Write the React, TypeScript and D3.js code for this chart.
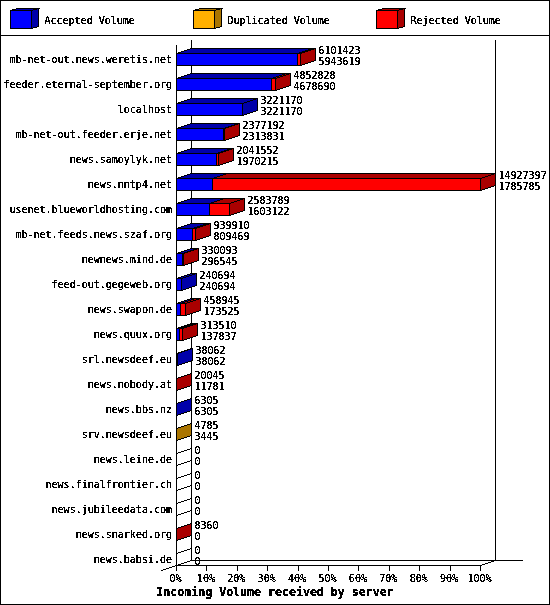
import * as d3 from "d3";

const servers = [
  "mb-net-out.news.weretis.net",
  "feeder.eternal-september.org",
  "localhost",
  "mb-net-out.feeder.erje.net",
  "news.samoylyk.net",
  "news.nntp4.net",
  "usenet.blueworldhosting.com",
  "mb-net.feeds.news.szaf.org",
  "newnews.mind.de",
  "feed-out.gegeweb.org",
  "news.swapon.de",
  "news.quux.org",
  "srl.newsdeef.eu",
  "news.nobody.at",
  "news.bbs.nz",
  "srv.newsdeef.eu",
  "news.leine.de",
  "news.finalfrontier.ch",
  "news.jubileedata.com",
  "news.snarked.org",
  "news.babsi.de",
];
const accepted = [
  5943619, 4678690, 3221170, 2313831, 1970215, 1785785, 1603122, 809469, 296545, 240694, 173525,
  137837, 38062, 11781, 6305, 3445, 0, 0, 0, 0, 0,
];
const duplicated = [0, 0, 0, 0, 0, 0, 0, 0, 0, 0, 0, 0, 0, 0, 0, 1340, 0, 0, 0, 0, 0];
const rejected = [
  157804, 174138, 0, 63361, 71337, 13141612, 980667, 130441, 33548, 0, 285420, 175673, 0, 8264, 0,
  0, 0, 0, 0, 8360, 0,
];
const percentTicks = [0, 10, 20, 30, 40, 50, 60, 70, 80, 90, 100];
const legendNames = ["Accepted Volume", "Duplicated Volume", "Rejected Volume"];
const frontColors = ["#0000ff", "#ffb000", "#ff0000"];
const darkColors = ["#0000aa", "#aa7500", "#aa0000"];

const series = [accepted, duplicated, rejected];
const totals = servers.map((_, i) => accepted[i] + duplicated[i] + rejected[i]);

const font = "'DejaVu Sans Mono', monospace";
const depthX = 15;
const depthY = 5;
const barH = 12;

const x = d3.scaleLinear().domain([0, d3.max(totals)!]).range([176.5, 480.5]);
const pct = d3.scaleLinear().domain([0, 100]).range([176.5, 480.5]);
const y = d3.scalePoint().domain(servers).range([59.5, 559.5]);
const poly = d3.line();
const snap = (v: number) => Math.round(v - 0.5) + 0.5;

function Bar({ i }: { i: number }) {
  const top = y(servers[i])! - 6;
  const bottom = top + barH;
  let running = 0;
  const parts: { from: number; to: number; k: number }[] = [];
  series.forEach((s, k) => {
    if (s[i] > 0) {
      parts.push({ from: snap(x(running)), to: snap(x(running + s[i])), k });
      running += s[i];
    }
  });
  const end = snap(x(totals[i]));
  const last = parts.length ? parts[parts.length - 1].k : -1;
  const stroke = { stroke: "#000", strokeWidth: 1 };
  return (
    <g>
      {parts.map((p) => (
        <path
          key={`t${p.k}`}
          d={poly([[p.from, top], [p.from + depthX, top - depthY], [p.to + depthX, top - depthY], [p.to, top]])!}
          fill={darkColors[p.k]}
          {...stroke}
        />
      ))}
      <path
        d={poly([[end, top], [end + depthX, top - depthY], [end + depthX, bottom - depthY], [end, bottom]]) + "Z"}
        fill={last < 0 ? "none" : darkColors[last]}
        {...stroke}
      />
      {parts.map((p) => (
        <rect key={`f${p.k}`} x={p.from} y={top} width={p.to - p.from} height={barH} fill={frontColors[p.k]} {...stroke} />
      ))}
    </g>
  );
}

function RowText({ i }: { i: number }) {
  const top = y(servers[i])! - 6;
  const end = snap(x(totals[i]));
  return (
    <g>
      <text x={172} y={top + 9} textAnchor="end">{servers[i]}</text>
      <text x={end + depthX + 3} y={top + 0.5}>{totals[i]}</text>
      <text x={end + depthX + 3} y={top + 11.5}>{accepted[i]}</text>
    </g>
  );
}

export default function App() {
  const legendX = [10.5, 193.5, 376.5];
  return (
    <svg
      width={550}
      height={605}
      viewBox="0 0 550 605"
      shapeRendering="crispEdges"
      style={{ position: "absolute", left: 0, top: 0, background: "#fff" }}
    >
      <defs>
        <filter id="crisp" filterUnits="userSpaceOnUse" x={0} y={0} width={550} height={605} colorInterpolationFilters="sRGB">
          <feComponentTransfer>
            <feFuncA type="discrete" tableValues="0 0 1 1 1 1 1" />
          </feComponentTransfer>
        </filter>
      </defs>
      <rect x={0.5} y={0.5} width={549} height={604} fill="#fff" stroke="#000" />
      <line x1={0} x2={550} y1={35.5} y2={35.5} stroke="#000" />

      {/* legend */}
      {legendNames.map((name, k) => {
        const lx = legendX[k];
        return (
          <g key={name}>
            <path d={poly([[lx, 10.5], [lx + 7, 8.5], [lx + 29, 8.5], [lx + 22, 10.5]]) + "Z"} fill={darkColors[k]} stroke="#000" />
            <path d={poly([[lx + 21, 10.5], [lx + 28, 8.5], [lx + 28, 26.5], [lx + 21, 28.5]]) + "Z"} fill={darkColors[k]} stroke="#000" />
            <rect x={lx} y={10.5} width={21} height={18} fill={frontColors[k]} stroke="#000" />
            <text x={lx + 34} y={23.5} fontFamily={font} fontSize={10} filter="url(#crisp)">{name}</text>
          </g>
        );
      })}

      {/* axes */}
      <g stroke="#000" fill="none">
        <line x1={176.5} x2={176.5} y1={45} y2={566} />
        <line x1={191.5} x2={191.5} y1={40} y2={561} />
        <line x1={495.5} x2={495.5} y1={40} y2={561} />
        <line x1={191.5} x2={522.5} y1={560.5} y2={560.5} />
        <line x1={176.5} x2={480.5} y1={565.5} y2={565.5} />
        <path d={poly([[161.5, 570.5], [191.5, 560.5]])!} />
        <path d={poly([[480.5, 565.5], [495.5, 560.5]])!} />
        {percentTicks.map((t) => (
          <line key={t} x1={snap(pct(t))} x2={snap(pct(t))} y1={565} y2={571} />
        ))}
      </g>

      {servers.map((_, i) => (
        <Bar key={i} i={i} />
      ))}

      <g filter="url(#crisp)" fontFamily={font} fontSize={10} fill="#000">
        {servers.map((_, i) => (
          <RowText key={i} i={i} />
        ))}
        {percentTicks.map((t) => (
          <text key={t} x={pct(t) - 1} y={582} textAnchor="middle">{`${t}%`}</text>
        ))}
        <text x={275} y={596} fontSize={11.6} fontWeight="bold" textAnchor="middle">
          Incoming Volume received by server
        </text>
      </g>
    </svg>
  );
}
